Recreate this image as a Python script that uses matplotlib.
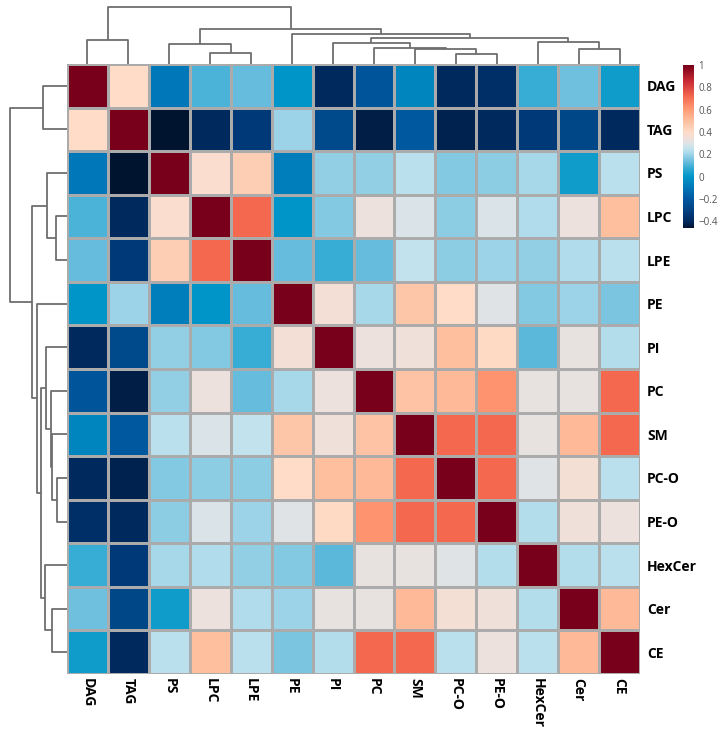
import matplotlib

matplotlib.use("Agg")
import matplotlib.pyplot as plt
import numpy as np
from matplotlib.colors import LinearSegmentedColormap, Normalize

plt.rcParams["font.family"] = ["Open Sans", "DejaVu Sans"]

lipids = ["DAG", "TAG", "PS", "LPC", "LPE", "PE", "PI", "PC", "SM",
          "PC-O", "PE-O", "HexCer", "Cer", "CE"]

# correlation matrix, rows/cols in clustered order (lipids)
corr = [
    [1.00, 0.40, -0.10, 0.10, 0.13, 0.00, -0.40, -0.22, -0.05, -0.40, -0.38, 0.08, 0.14, 0.02],
    [0.40, 1.00, -0.46, -0.40, -0.33, 0.20, -0.27, -0.43, -0.20, -0.42, -0.40, -0.33, -0.28, -0.40],
    [-0.10, -0.46, 1.00, 0.38, 0.45, -0.08, 0.19, 0.19, 0.24, 0.17, 0.18, 0.21, 0.02, 0.24],
    [0.10, -0.40, 0.38, 1.00, 0.72, 0.00, 0.17, 0.33, 0.29, 0.18, 0.29, 0.22, 0.33, 0.50],
    [0.13, -0.33, 0.45, 0.72, 1.00, 0.13, 0.08, 0.13, 0.25, 0.18, 0.20, 0.19, 0.22, 0.24],
    [0.00, 0.20, -0.08, 0.00, 0.13, 1.00, 0.35, 0.21, 0.48, 0.40, 0.30, 0.17, 0.20, 0.16],
    [-0.40, -0.27, 0.19, 0.17, 0.08, 0.35, 1.00, 0.33, 0.34, 0.50, 0.41, 0.12, 0.32, 0.23],
    [-0.22, -0.43, 0.19, 0.33, 0.13, 0.21, 0.33, 1.00, 0.49, 0.52, 0.62, 0.32, 0.32, 0.72],
    [-0.05, -0.20, 0.24, 0.29, 0.25, 0.48, 0.34, 0.49, 1.00, 0.72, 0.72, 0.32, 0.52, 0.72],
    [-0.40, -0.42, 0.17, 0.18, 0.18, 0.40, 0.50, 0.52, 0.72, 1.00, 0.72, 0.30, 0.36, 0.24],
    [-0.38, -0.40, 0.18, 0.29, 0.20, 0.30, 0.41, 0.62, 0.72, 0.72, 1.00, 0.23, 0.34, 0.33],
    [0.08, -0.33, 0.21, 0.22, 0.19, 0.17, 0.12, 0.32, 0.32, 0.30, 0.23, 1.00, 0.23, 0.24],
    [0.14, -0.28, 0.02, 0.33, 0.22, 0.20, 0.32, 0.32, 0.52, 0.36, 0.34, 0.23, 1.00, 0.52],
    [0.02, -0.40, 0.24, 0.50, 0.24, 0.16, 0.23, 0.72, 0.72, 0.24, 0.33, 0.24, 0.52, 1.00],
]

# hierarchical clustering merges (leaf ids 0..13, new nodes numbered from 14)
merge_left = [9, 3, 8, 12, 7, 2, 6, 11, 0, 20, 5, 19, 22]
merge_right = [10, 4, 14, 13, 16, 15, 18, 17, 1, 21, 23, 24, 25]
merge_height = [10, 11, 14.7, 15, 15.7, 20, 21, 22, 24, 26, 30, 35, 57]

cbar_ticks = [-0.4, -0.2, 0, 0.2, 0.4, 0.6, 0.8, 1]
vmin, vmax = -0.46, 1.0

stops = [
    (-0.46, "#001430"), (-0.42, "#00224f"), (-0.40, "#002a60"), (-0.33, "#003a78"),
    (-0.27, "#004a8c"), (-0.20, "#0058a0"), (-0.10, "#0077b8"), (0.00, "#0096c8"),
    (0.08, "#38acd4"), (0.13, "#66bcdc"), (0.18, "#8ccce4"), (0.22, "#b0dcec"),
    (0.26, "#c8e4ee"), (0.30, "#dfe3e6"), (0.34, "#f0e0da"), (0.40, "#fedcc8"),
    (0.50, "#fec0a0"), (0.62, "#fd9470"), (0.72, "#f46850"), (0.86, "#c82a34"),
    (1.00, "#78001a"),
]
cmap = LinearSegmentedColormap.from_list(
    "lipid", [((v - vmin) / (vmax - vmin), c) for v, c in stops])
norm = Normalize(vmin, vmax)


def dendro_segments():
    """U-shaped links as (pos_a, pos_b, h_a, h_b, h_top)."""
    pos = {i: i + 0.5 for i in range(len(lipids))}
    hgt = {i: 0.0 for i in range(len(lipids))}
    segs = []
    for k, (a, b, h) in enumerate(zip(merge_left, merge_right, merge_height)):
        node = len(lipids) + k
        segs.append((pos[a], pos[b], hgt[a], hgt[b], h))
        pos[node] = (pos[a] + pos[b]) / 2
        hgt[node] = h
    return segs


W, H = 718, 733
fig = plt.figure(figsize=(W / 100, H / 100), dpi=100)


def px_axes(x0, y0, x1, y1):
    return fig.add_axes([x0 / W, 1 - y1 / H, (x1 - x0) / W, (y1 - y0) / H])


n = len(lipids)
ax = px_axes(67, 64, 640, 674)
ax.pcolormesh(np.arange(n + 1), np.arange(n + 1), np.array(corr), cmap=cmap, norm=norm,
              edgecolor="#ababab", linewidth=0.8)
ax.set_xlim(0, n)
ax.set_ylim(n, 0)
for s in ax.spines.values():
    s.set_visible(False)
ax.yaxis.tick_right()
ax.set_yticks(np.arange(n) + 0.5)
ax.set_yticklabels(lipids, fontsize=10, fontweight="bold")
ax.set_xticks(np.arange(n) + 0.5)
ax.set_xticklabels(lipids, fontsize=10, fontweight="bold", rotation=-90, va="top")
ax.tick_params(axis="y", length=0, pad=5)
ax.tick_params(axis="x", length=0, pad=3)

line_kw = dict(color="#6e6e6e", lw=1.3, solid_capstyle="butt")

# top dendrogram
axt = px_axes(67, 4, 640, 64)
for pa, pb, ha, hb, ht in dendro_segments():
    axt.plot([pa, pa, pb, pb], [ha, ht, ht, hb], **line_kw)
axt.set_xlim(0, n)
axt.set_ylim(0, 60)
axt.axis("off")

# left dendrogram
axl = px_axes(7, 64, 67, 674)
for pa, pb, ha, hb, ht in dendro_segments():
    axl.plot([ha, ht, ht, hb], [pa, pa, pb, pb], **line_kw)
axl.set_ylim(n, 0)
axl.set_xlim(60, 0)
axl.axis("off")

# colour bar
axc = px_axes(683, 65, 694, 228)
grad = np.linspace(vmin, vmax, 256).reshape(-1, 1)
axc.imshow(grad, cmap=cmap, norm=norm, aspect="auto", origin="lower",
           extent=[0, 1, vmin, vmax])
axc.set_xticks([])
axc.yaxis.tick_right()
axc.set_yticks(cbar_ticks)
axc.set_yticklabels(["\u22120.4", "\u22120.2", "0", "0.2", "0.4", "0.6", "0.8", "1"],
                    fontsize=7, color="#555555")
axc.tick_params(length=0, pad=3)
for s in axc.spines.values():
    s.set_visible(False)

fig.savefig("out.png", dpi=100)
